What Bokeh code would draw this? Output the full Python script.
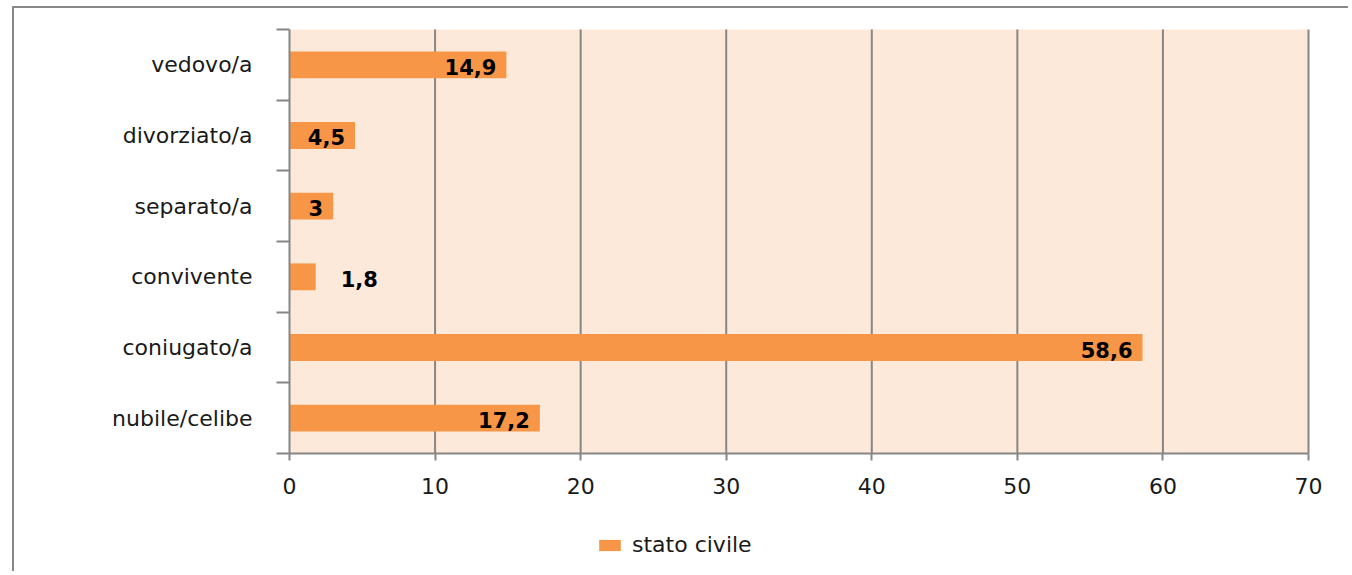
from bokeh.plotting import figure
from bokeh.models import ColumnDataSource, Range1d, FixedTicker
from bokeh.core.properties import value
from bokeh.embed import file_html
from bokeh.resources import INLINE

# ---- data ----
categories = ["nubile/celibe", "coniugato/a", "convivente", "separato/a", "divorziato/a", "vedovo/a"]
values = [17.2, 58.6, 1.8, 3, 4.5, 14.9]
value_labels = ["17,2", "58,6", "1,8", "3", "4,5", "14,9"]
x_ticks = [0, 10, 20, 30, 40, 50, 60, 70]
series_name = "stato civile"

GRAY = "#868686"
BAR = "#F79646"
BG = "#FDE9D9"
TXT = "#1a1a1a"
FONT = "DejaVu Sans"

ypos = [i + 0.5 for i in range(len(categories))]
bounds = [i for i in range(len(categories) + 1)]

# the frame fills the whole canvas; axes sit at x = 0 and y = 0 inside it
p = figure(width=1336, height=565, output_backend="svg", toolbar_location=None,
           x_range=Range1d(-18.891, 72.885), y_range=Range1d(-1.698, 6.297),
           min_border_left=0, min_border_top=0, min_border_right=0, min_border_bottom=0,
           styles={"border-left": "2px solid #888888", "border-top": "2px solid #888888",
                   "margin-left": "12px", "margin-top": "6px"})

p.background_fill_color = "white"
p.border_fill_color = "white"
p.outline_line_color = None
p.xgrid.visible = False
p.ygrid.visible = False

# plot area background and vertical grid lines
p.quad(left=[x_ticks[0]], right=[x_ticks[-1]], bottom=[bounds[0]], top=[bounds[-1]],
       fill_color=BG, line_color=None)
p.segment(x0=x_ticks[1:], x1=x_ticks[1:], y0=[bounds[0]] * (len(x_ticks) - 1),
          y1=[bounds[-1]] * (len(x_ticks) - 1), line_color=GRAY, line_width=2)

src = ColumnDataSource(dict(y=ypos, v=values, lab=value_labels, cat=categories))
p.hbar(y="y", right="v", left=0, height=0.38, source=src, fill_color=BAR, line_color=None,
       legend_label=series_name)

inside = [i for i, v in enumerate(values) if v >= 2]
outside = [i for i, v in enumerate(values) if v < 2]
src_in = ColumnDataSource(dict(y=[ypos[i] for i in inside], v=[values[i] for i in inside],
                               lab=[value_labels[i] for i in inside]))
src_out = ColumnDataSource(dict(y=[ypos[i] for i in outside], v=[values[i] for i in outside],
                                lab=[value_labels[i] for i in outside]))
p.text(x="v", y="y", text="lab", source=src_in, text_align="right", text_baseline="middle",
       x_offset=-10, y_offset=2, text_font=value(FONT), text_font_style="bold",
       text_font_size="21px", text_color="black")
p.text(x="v", y="y", text="lab", source=src_out, text_align="left", text_baseline="middle",
       x_offset=25, y_offset=2, text_font=value(FONT), text_font_style="bold",
       text_font_size="21px", text_color="black")

# x axis (sits at y = 0 inside the frame)
xa = p.xaxis[0]
xa.fixed_location = 0
xa.bounds = (x_ticks[0], x_ticks[-1])
xa.ticker = FixedTicker(ticks=x_ticks)
xa.axis_line_color = GRAY
xa.axis_line_width = 2
xa.major_tick_line_color = GRAY
xa.major_tick_line_width = 2
xa.major_tick_in = 0
xa.major_tick_out = 7
xa.minor_tick_line_color = None
xa.major_label_text_font = FONT
xa.major_label_text_font_size = "22px"
xa.major_label_text_color = TXT
xa.major_label_standoff = 17

# y axis (sits at x = 0 inside the frame)
ya = p.yaxis[0]
ya.fixed_location = 0
ya.bounds = (bounds[0], bounds[-1])
ya.ticker = FixedTicker(ticks=ypos, minor_ticks=bounds)
ya.major_label_overrides = {y: c for y, c in zip(ypos, categories)}
ya.axis_line_color = GRAY
ya.axis_line_width = 2
ya.major_tick_line_color = None
ya.major_tick_in = 0
ya.major_tick_out = 0
ya.minor_tick_line_color = GRAY
ya.minor_tick_line_width = 2
ya.minor_tick_in = 0
ya.minor_tick_out = 13
ya.major_label_text_font = FONT
ya.major_label_text_font_size = "22px"
ya.major_label_text_color = TXT
ya.major_label_standoff = 24

lg = p.legend[0]
lg.location = (582, 16)
lg.orientation = "horizontal"
lg.border_line_color = None
lg.background_fill_alpha = 0
lg.padding = 0
lg.margin = 0
lg.glyph_width = 27
lg.glyph_height = 14
lg.label_standoff = 9
lg.label_text_font = FONT
lg.label_text_font_size = "22px"
lg.label_text_color = TXT

open("out.html", "w").write(file_html(p, INLINE))
